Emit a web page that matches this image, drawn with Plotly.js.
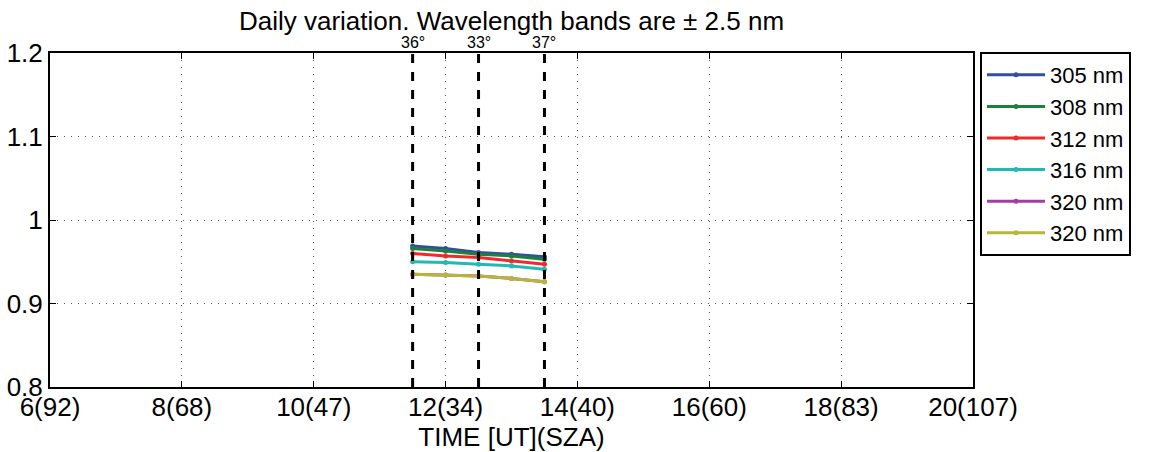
<!DOCTYPE html>
<html>
<head>
<meta charset="utf-8">
<script src="https://cdn.plot.ly/plotly-3.0.1.min.js"></script>
<style>
  html, body { margin: 0; padding: 0; background: #fff; }
  #chart { width: 1162px; height: 452px; }
</style>
</head>
<body>
<div id="chart"></div>
<script>
// Measurement times (UT hours)
const times = [11.5, 12.0, 12.5, 13.0, 13.5];

// Normalised irradiance per wavelength band
const bandNames = ["305 nm", "308 nm", "312 nm", "316 nm", "320 nm", "320 nm"];
const v305 = [0.969, 0.966, 0.961, 0.959, 0.956];
const v308 = [0.966, 0.963, 0.959, 0.957, 0.953];
const v312 = [0.960, 0.957, 0.955, 0.951, 0.947];
const v316 = [0.950, 0.949, 0.947, 0.945, 0.941];
const v320a = [0.935, 0.934, 0.933, 0.930, 0.926];
const v320b = [0.935, 0.934, 0.933, 0.930, 0.926];
const bandColors = ["#2f4fa3", "#1f7f3c", "#f02a2a", "#22b8b4", "#a23f9c", "#b8b53a"];

// Marked scan times and their solar zenith angles
const markTimes = [11.5, 12.5, 13.5];
const markSZA = ["36°", "33°", "37°"];

// Axis ticks
const xTickVals = [6, 8, 10, 12, 14, 16, 18, 20];
const xTickText = ["6(92)", "8(68)", "10(47)", "12(34)", "14(40)", "16(60)", "18(83)", "20(107)"];
const yTickVals = [0.8, 0.9, 1.0, 1.1, 1.2];
const yTickText = ["0.8", "0.9", "1", "1.1", "1.2"];

const series = [v305, v308, v312, v316, v320a, v320b];
const traces = series.map((vals, i) => ({
  x: times,
  y: vals,
  name: bandNames[i],
  type: "scatter",
  mode: "lines+markers",
  line: { color: bandColors[i], width: 3 },
  marker: { color: bandColors[i], size: 5 }
}));

const shapes = markTimes.map(t => ({
  type: "line", xref: "x", yref: "paper",
  x0: t, x1: t, y0: 0, y1: 1,
  line: { color: "#000", width: 3, dash: "dash" }
}));

const annotations = markTimes.map((t, i) => ({
  x: t, xref: "x", y: 1, yref: "paper",
  yanchor: "bottom", yshift: 0,
  text: markSZA[i], showarrow: false,
  font: { size: 16, color: "#000" }
}));

const fontFam = "Liberation Sans, Arial, sans-serif";

const layout = {
  width: 1162, height: 452,
  margin: { l: 50, r: 189, t: 53, b: 65 },
  paper_bgcolor: "#fff", plot_bgcolor: "#fff",
  font: { family: fontFam, color: "#000", size: 24 },
  title: {
    text: "Daily variation. Wavelength bands are ± 2.5 nm",
    x: 0.5, xref: "paper", xanchor: "center",
    y: 1, yref: "paper", yanchor: "bottom",
    pad: { b: 23 },
    font: { size: 26, family: fontFam, color: "#000" }
  },
  xaxis: {
    range: [6, 20],
    tickvals: xTickVals, ticktext: xTickText,
    ticks: "inside", ticklen: 6, tickwidth: 1, tickcolor: "#000",
    showline: true, linewidth: 2, linecolor: "#000", mirror: "ticks",
    showgrid: true, gridcolor: "#555", griddash: "1px,6px", gridwidth: 1,
    zeroline: false,
    ticklabelstandoff: -4,
    tickfont: { size: 26, family: fontFam },
    title: { text: "TIME [UT](SZA)", standoff: 0, font: { size: 26, family: fontFam } }
  },
  yaxis: {
    range: [0.8, 1.2],
    tickvals: yTickVals, ticktext: yTickText,
    ticks: "inside", ticklen: 6, tickwidth: 1, tickcolor: "#000",
    showline: true, linewidth: 2, linecolor: "#000", mirror: "ticks",
    showgrid: true, gridcolor: "#555", griddash: "1px,6px", gridwidth: 1,
    zeroline: false,
    tickfont: { size: 26, family: fontFam }
  },
  legend: {
    x: 1.0076, xanchor: "left", y: 1.003, yanchor: "top",
    bordercolor: "#000", borderwidth: 2, bgcolor: "#fff",
    itemwidth: 58,
    font: { size: 22, family: fontFam }
  },
  shapes: shapes,
  annotations: annotations,
  showlegend: true
};

Plotly.newPlot("chart", traces, layout, { displayModeBar: false, staticPlot: true });
</script>
</body>
</html>
